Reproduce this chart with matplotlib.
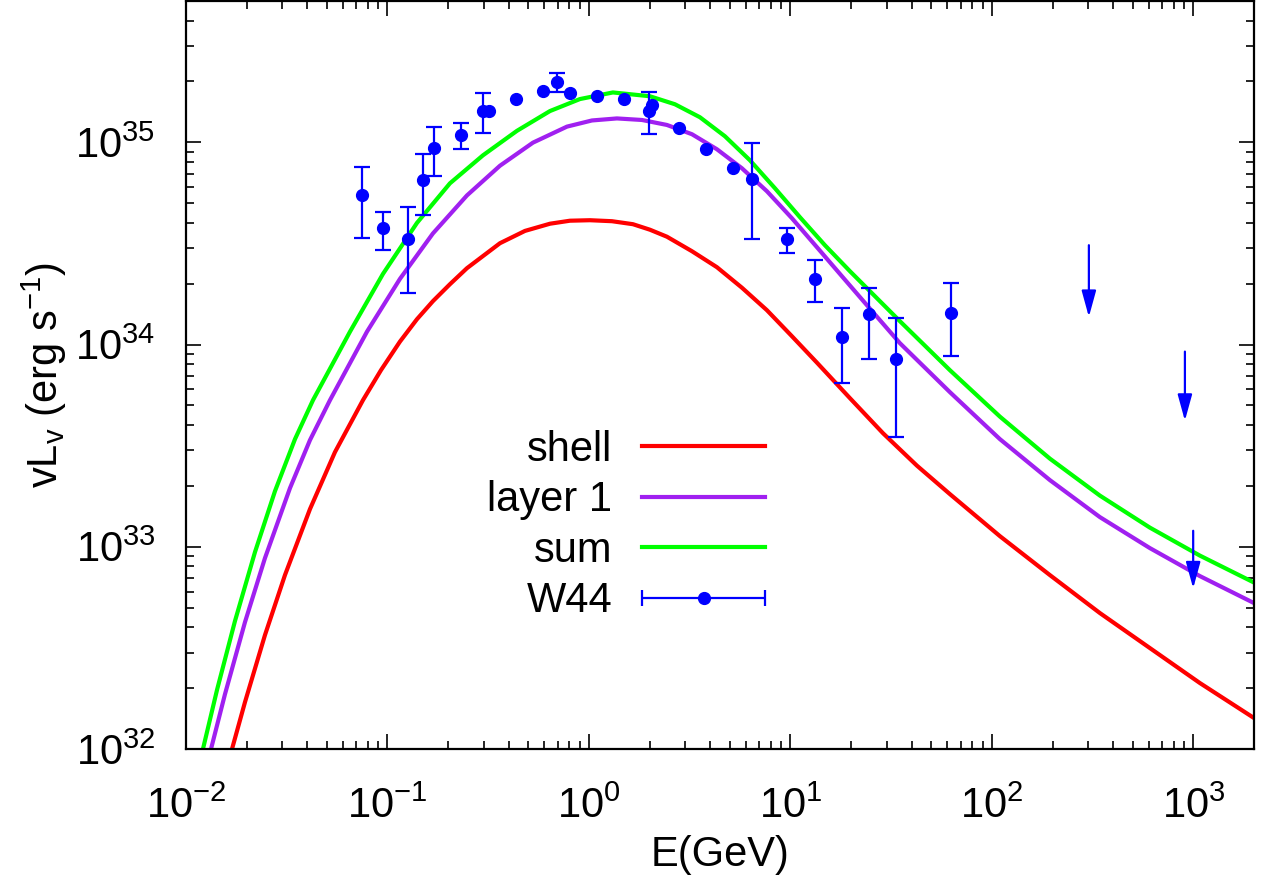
import numpy as np
import matplotlib
matplotlib.use("Agg")
import matplotlib.pyplot as plt
from matplotlib.container import ErrorbarContainer
from matplotlib.legend_handler import HandlerErrorbar

plt.rcParams['font.family'] = ['Liberation Sans', 'DejaVu Sans']
plt.rcParams['mathtext.fontset'] = 'custom'
plt.rcParams['mathtext.rm'] = 'Liberation Sans'
plt.rcParams['mathtext.it'] = 'Liberation Sans:italic'

nan = np.nan

# model curves, E in GeV, nuL_nu in erg/s
shell_E = [0.01692, 0.01963, 0.02466, 0.03099, 0.04124, 0.05487, 0.07557, 0.09284, 0.1153,
           0.1401, 0.1681, 0.2042, 0.2480, 0.3617, 0.4814, 0.6405, 0.8048, 1.0115, 1.301,
           1.654, 2.008, 2.438, 3.245, 4.318, 5.744, 7.644, 10.17, 13.54, 19.74, 28.78,
           42.44, 61.88, 109.6, 194.0, 343.6, 608.3, 1077, 2000]
shell_L = [1.0e32, 1.707e32, 3.660e32, 7.247e32, 1.536e33, 2.938e33, 5.311e33, 7.471e33,
           1.034e34, 1.335e34, 1.639e34, 1.988e34, 2.386e34, 3.171e34, 3.648e34, 3.959e34,
           4.097e34, 4.120e34, 4.074e34, 3.937e34, 3.698e34, 3.415e34, 2.895e34, 2.413e34,
           1.911e34, 1.479e34, 1.100e34, 8.139e33, 5.433e33, 3.648e33, 2.520e33, 1.822e33,
           1.129e33, 7.247e32, 4.702e32, 3.157e32, 2.120e32, 1.423e32]

layer_E = [0.01331, 0.01562, 0.01963, 0.02466, 0.03282, 0.04124, 0.05184, 0.07911, 0.1153,
           0.1681, 0.2480, 0.3617, 0.5274, 0.7778, 1.035, 1.377, 1.833, 2.438, 3.245,
           4.318, 5.744, 7.644, 10.17, 13.54, 18.01, 23.97, 34.95, 61.88, 109.6, 194.0,
           343.6, 608.3, 1077, 2000]
layer_L = [1.0e32, 1.870e32, 4.244e32, 8.794e32, 1.951e33, 3.369e33, 5.311e33, 1.158e34,
           2.112e34, 3.544e34, 5.463e34, 7.662e34, 9.966e34, 1.196e35, 1.283e35, 1.313e35,
           1.290e35, 1.219e35, 1.097e35, 9.244e34, 7.446e34, 5.731e34, 4.216e34, 3.030e34,
           2.178e34, 1.566e34, 1.016e34, 5.818e33, 3.407e33, 2.137e33, 1.402e33, 9.853e32,
           7.165e32, 5.269e32]

sum_E = [0.01214, 0.01425, 0.01750, 0.02200, 0.02765, 0.03475, 0.04269, 0.06516, 0.09499,
         0.1401, 0.2042, 0.2978, 0.4392, 0.6405, 0.9022, 1.315, 2.008, 2.672, 3.555,
         4.731, 6.295, 8.377, 11.15, 14.83, 19.74, 34.95, 61.88, 109.6, 194.0, 343.6,
         608.3, 1077, 2000]
sum_L = [1.0e32, 1.957e32, 4.292e32, 9.415e32, 1.885e33, 3.407e33, 5.311e33, 1.158e34,
         2.236e34, 3.996e34, 6.271e34, 8.626e34, 1.140e35, 1.428e35, 1.637e35, 1.765e35,
         1.690e35, 1.543e35, 1.331e35, 1.072e35, 8.155e34, 5.932e34, 4.264e34, 3.100e34,
         2.306e34, 1.305e34, 7.471e33, 4.401e33, 2.729e33, 1.791e33, 1.244e33, 9.047e32,
         6.654e32]

# W44 data points (nan = no visible error bar)
w44_E = [0.0750, 0.0946, 0.126, 0.150, 0.170, 0.231, 0.299, 0.320, 0.435, 0.592, 0.697,
         0.805, 1.10, 1.49, 1.99, 2.05, 2.80, 3.79, 5.17, 6.46, 9.61, 13.3, 18.1, 24.6,
         33.5, 62.4]
w44_L = [5.48e34, 3.78e34, 3.32e34, 6.55e34, 9.38e34, 1.084e35, 1.425e35, 1.425e35, 1.633e35,
         1.80e35, 1.99e35, 1.763e35, 1.695e35, 1.633e35, 1.425e35, 1.525e35, 1.183e35, 9.32e34,
         7.50e34, 6.57e34, 3.33e34, 2.11e34, 1.09e34, 1.41e34, 8.50e33, 1.425e34]
w44_lo = [3.38e34, 2.95e34, 1.80e34, 4.36e34, 6.82e34, 9.32e34, 1.113e35, nan, nan, nan,
          1.775e35, nan, nan, nan, 1.105e35, nan, nan, nan, nan, 3.32e34, 2.85e34, 1.63e34,
          6.42e33, 8.50e33, 3.50e33, 8.76e33]
w44_hi = [7.55e34, 4.51e34, 4.80e34, 8.73e34, 1.19e35, 1.24e35, 1.755e35, nan, nan, nan,
          2.20e35, nan, nan, nan, 1.775e35, nan, nan, nan, nan, 9.87e34, 3.78e34, 2.61e34,
          1.525e34, 1.915e34, 1.346e34, 2.005e34]

# upper limits: arrow from top value down to tip
ul_E = [303, 908, 998]
ul_top = [3.10e34, 9.23e33, 1.20e33]
ul_tip = [1.37e34, 4.20e33, 6.23e32]

fig = plt.figure(figsize=(12.68, 8.84), dpi=100)
ax = fig.add_axes([186 / 1268, 1 - 749 / 884, 1068 / 1268, 748 / 884])
ax.set_xscale('log')
ax.set_yscale('log')

ax.plot(shell_E, shell_L, color='#ff0000', lw=3, label='shell')
ax.plot(layer_E, layer_L, color='#a020f0', lw=3, label='layer 1')
ax.plot(sum_E, sum_L, color='#00ff00', lw=3, label='sum')

E = np.array(w44_E)
L = np.array(w44_L)
lo = np.array(w44_lo)
hi = np.array(w44_hi)
has = ~np.isnan(lo)
ax.errorbar(E[has], L[has], yerr=[L[has] - lo[has], hi[has] - L[has]], fmt='none',
            ecolor='#0000ff', elinewidth=1.6, capsize=6, capthick=1.6, zorder=3)
ax.plot(E, L, 'o', color='#0000ff', ms=8.5, zorder=4)

for e, t, b in zip(ul_E, ul_top, ul_tip):
    ax.annotate('', xy=(e, b), xytext=(e, t),
                arrowprops=dict(arrowstyle='-|>,head_length=0.8,head_width=0.22',
                                color='#0000ff', lw=1.6, mutation_scale=20,
                                shrinkA=0, shrinkB=0))

# legend proxy for the data: horizontal bar with caps like gnuplot
proxy = ax.errorbar([nan], [nan], xerr=[1], fmt='o', color='#0000ff', ms=8.5,
                    elinewidth=1.6, capsize=6, capthick=1.6, label='W44')

ax.set_xlim(0.01, 2000)
ax.set_ylim(1e32, 5e35)

ax.tick_params(which='both', direction='in', top=True, right=True, labelsize=30, width=1.2)
ax.tick_params(which='major', length=11)
ax.tick_params(which='minor', length=6)
ax.tick_params(axis='x', which='major', pad=27)
ax.tick_params(axis='y', which='major', pad=22)
for s in ax.spines.values():
    s.set_linewidth(1.6)

ax.set_xlabel('E(GeV)', fontsize=30, labelpad=6)
ax.set_ylabel(r'v$\mathregular{L_v}$ (erg $\mathregular{s^{-1}}$)', fontsize=30)
ax.yaxis.set_label_coords(-0.11, 0.5)

handles, labels = ax.get_legend_handles_labels()
ax.legend(handles, labels, loc='center right',
          bbox_to_anchor=(765 / 1268, 1 - 525.5 / 884), bbox_transform=fig.transFigure,
          frameon=False, fontsize=30, markerfirst=False, borderpad=0, borderaxespad=0,
          numpoints=1, handlelength=2.95, handletextpad=0.72, labelspacing=0.25,
          handler_map={ErrorbarContainer: HandlerErrorbar(xerr_size=1.476)})

fig.savefig('out.png', dpi=100)
